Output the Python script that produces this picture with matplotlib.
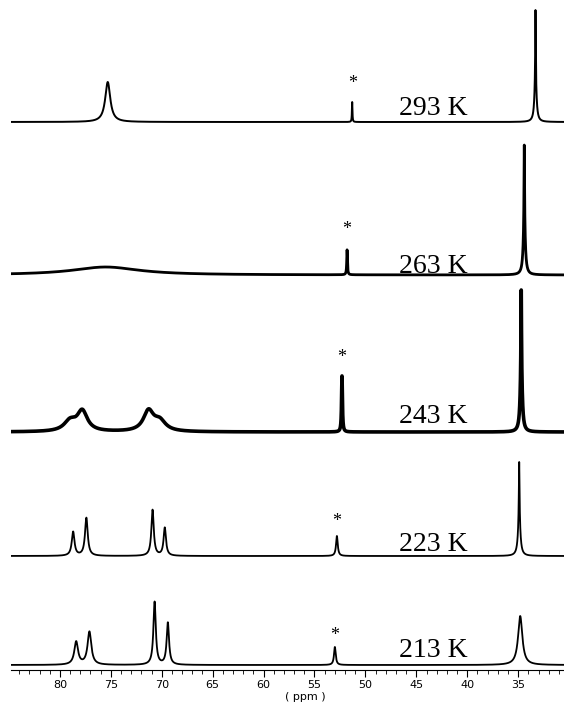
import numpy as np
import matplotlib.pyplot as plt

# temperatures (top to bottom)
temps = ["293 K", "263 K", "243 K", "223 K", "213 K"]

# peak lists per spectrum: centre (ppm), height (arb.), half width (ppm)
pk_center = [
    [75.3, 51.3, 33.3, 33.3],
    [75.5, 51.8, 34.4, 34.4],
    [79.0, 77.8, 71.3, 70.2, 52.3, 34.7, 34.7],
    [78.7, 77.4, 70.9, 69.7, 52.8, 34.9, 34.9],
    [78.4, 77.1, 70.7, 69.4, 53.0, 34.8],
]
pk_height = [
    [40, 20, 40, 72],
    [8, 25, 50, 80],
    [10, 20, 20, 10, 56, 60, 82],
    [24, 38, 46, 28, 20, 34, 60],
    [23, 33, 63, 42, 18, 49],
]
pk_width = [
    [0.30, 0.03, 0.12, 0.03],
    [4.0, 0.04, 0.12, 0.03],
    [0.7, 0.6, 0.6, 0.7, 0.05, 0.12, 0.03],
    [0.16, 0.16, 0.14, 0.14, 0.10, 0.14, 0.04],
    [0.22, 0.22, 0.14, 0.14, 0.10, 0.25],
]
star_ppm = [51.3, 51.8, 52.3, 52.8, 53.0]

# layout (axes units = pixels)
offsets = [548, 395, 238, 114, 5]
lw = [1.4, 2.0, 2.6, 1.3, 1.3]
star_gap = [18, 21, 19, 15, 12]
label_gap = [7, 2, 9, 5, 8]

fig = plt.figure(figsize=(5.64, 7.06), dpi=100)
ax = fig.add_axes([11 / 564, 36 / 706, 553 / 564, 670 / 706])

x = np.linspace(86, 29, 12000)
for i in range(len(temps)):
    y = np.zeros_like(x)
    for c, h, w in zip(pk_center[i], pk_height[i], pk_width[i]):
        y += h * w**2 / ((x - c)**2 + w**2)
    ax.plot(x, y + offsets[i], color="black", lw=lw[i])
    sh = pk_height[i][pk_center[i].index(star_ppm[i])]
    ax.text(star_ppm[i], offsets[i] + sh + star_gap[i], "*", ha="center",
            va="center", fontsize=13, family="Liberation Serif")
    ax.text(43.3, offsets[i] + label_gap[i], temps[i], ha="center", va="baseline",
            fontsize=20, family="Liberation Serif")

ax.set_xlim(84.8, 30.5)
ax.set_ylim(0, 670)
for s in ["top", "left", "right"]:
    ax.spines[s].set_visible(False)
ax.spines["bottom"].set_linewidth(0.8)
ax.set_yticks([])
ax.set_xticks(np.arange(35, 81, 5))
ax.set_xticks(np.arange(31, 85, 1), minor=True)
ax.tick_params(axis="x", which="major", length=5, width=0.8, labelsize=8, pad=2)
ax.tick_params(axis="x", which="minor", length=3, width=0.6)
fig.text(305 / 564, 1 - 697 / 706, "( ppm )", ha="center", va="center", fontsize=8)

fig.savefig("out.png", dpi=100)
